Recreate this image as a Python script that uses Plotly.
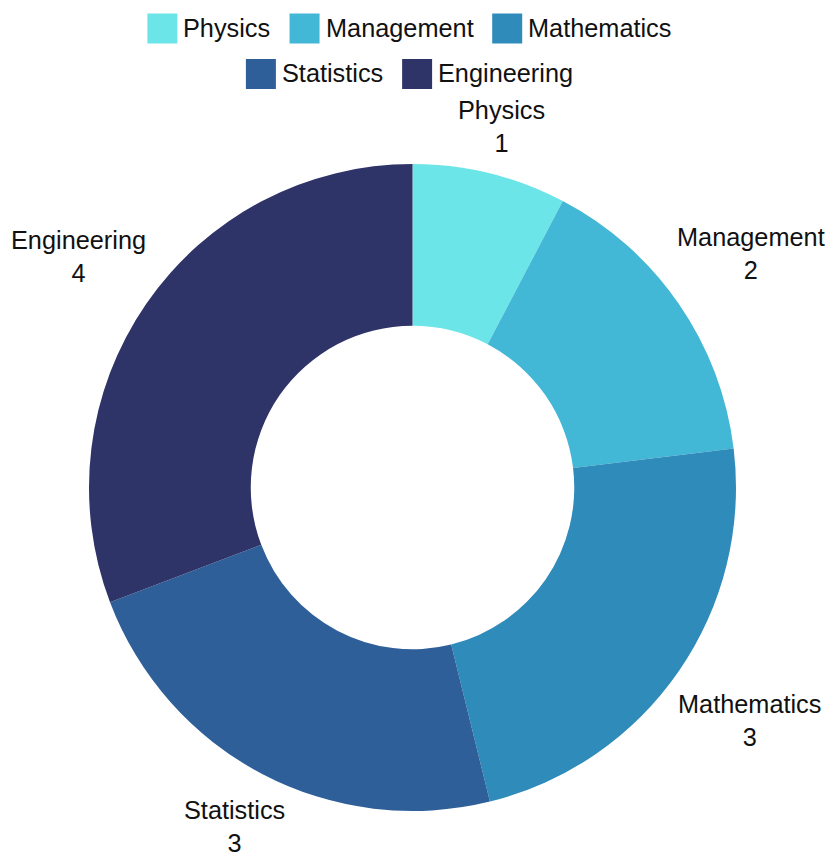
import math
import plotly.graph_objects as go

categories = ["Physics", "Management", "Mathematics", "Statistics", "Engineering"]
values = [1, 2, 3, 3, 4]
colors = ["#6BE5E8", "#43B7D6", "#2E8BBA", "#2E5F98", "#2F3468"]
legend_rows = [3, 2]  # number of legend entries per row

W, H = 828, 853
FONT = "Liberation Sans, Arial, sans-serif"
FS = 25.3
TXT = "#111111"

# pie geometry in figure pixels
CX, CY, R = 412.5, 487.5, 323.5
HOLE = 0.5

# approximate Arial/Liberation Sans advance widths (per 1000 em)
AW = {"P": 667, "h": 556, "y": 500, "s": 500, "i": 222, "c": 500, "M": 833, "a": 556,
      "n": 556, "g": 556, "e": 556, "m": 833, "t": 278, "S": 667, "E": 667, "r": 333}


def text_w(s):
    return sum(AW.get(ch, 556) for ch in s) / 1000 * FS


def px(x):
    return x / W


def py(y):
    return 1 - y / H


fig = go.Figure(go.Pie(
    labels=categories,
    values=values,
    hole=HOLE,
    sort=False,
    direction="clockwise",
    rotation=0,
    marker=dict(colors=colors, line=dict(width=0)),
    textinfo="none",
    showlegend=False,
    domain=dict(x=[px(CX - R), px(CX + R)], y=[py(CY + R), py(CY - R)]),
))

# outside labels placed on each slice's mid-angle
total = sum(values)
cum = 0
annotations = []
for name, v in zip(categories, values):
    theta = (cum + v / 2) / total * 2 * math.pi
    cum += v
    hw = max(text_w(name), text_w(str(v))) / 2
    hh = 27
    d = R + 12 + hw * abs(math.sin(theta)) + hh * abs(math.cos(theta))
    x = CX + d * math.sin(theta)
    y = CY - d * math.cos(theta)
    annotations.append(dict(
        x=px(x), y=py(y), xref="paper", yref="paper",
        text=f"{name}<br>{v}", showarrow=False, xanchor="center", yanchor="middle",
        align="center", font=dict(family=FONT, size=FS, color=TXT),
    ))

# legend: coloured squares with labels, rows centred
shapes = []
SQ = 30
row_y = [28.5, 74]
LEG_CX = 410
idx = 0
for r, n in enumerate(legend_rows):
    items = list(range(idx, idx + n))
    idx += n
    widths = [37 + text_w(categories[i]) for i in items]
    total_w = sum(widths) + 18 * (n - 1)
    x0 = LEG_CX - total_w / 2
    for i, w in zip(items, widths):
        shapes.append(dict(
            type="rect", xref="paper", yref="paper",
            x0=px(x0), x1=px(x0 + SQ), y0=py(row_y[r] + SQ / 2), y1=py(row_y[r] - SQ / 2),
            fillcolor=colors[i], line=dict(width=0),
        ))
        annotations.append(dict(
            x=px(x0 + 34), y=py(row_y[r] - 1), xref="paper", yref="paper",
            text=categories[i], showarrow=False, xanchor="left", yanchor="middle",
            font=dict(family=FONT, size=FS, color=TXT),
        ))
        x0 += w + 18

fig.update_layout(
    width=W, height=H,
    paper_bgcolor="white", plot_bgcolor="white",
    font=dict(family=FONT, size=FS, color=TXT),
    margin=dict(l=0, r=0, t=0, b=0, autoexpand=False),
    annotations=annotations,
    shapes=shapes,
    showlegend=False,
)

fig.write_html(
    "out.html",
    config={"displayModeBar": False},
    post_script="document.body.style.margin='0';document.body.style.overflow='hidden';",
)
